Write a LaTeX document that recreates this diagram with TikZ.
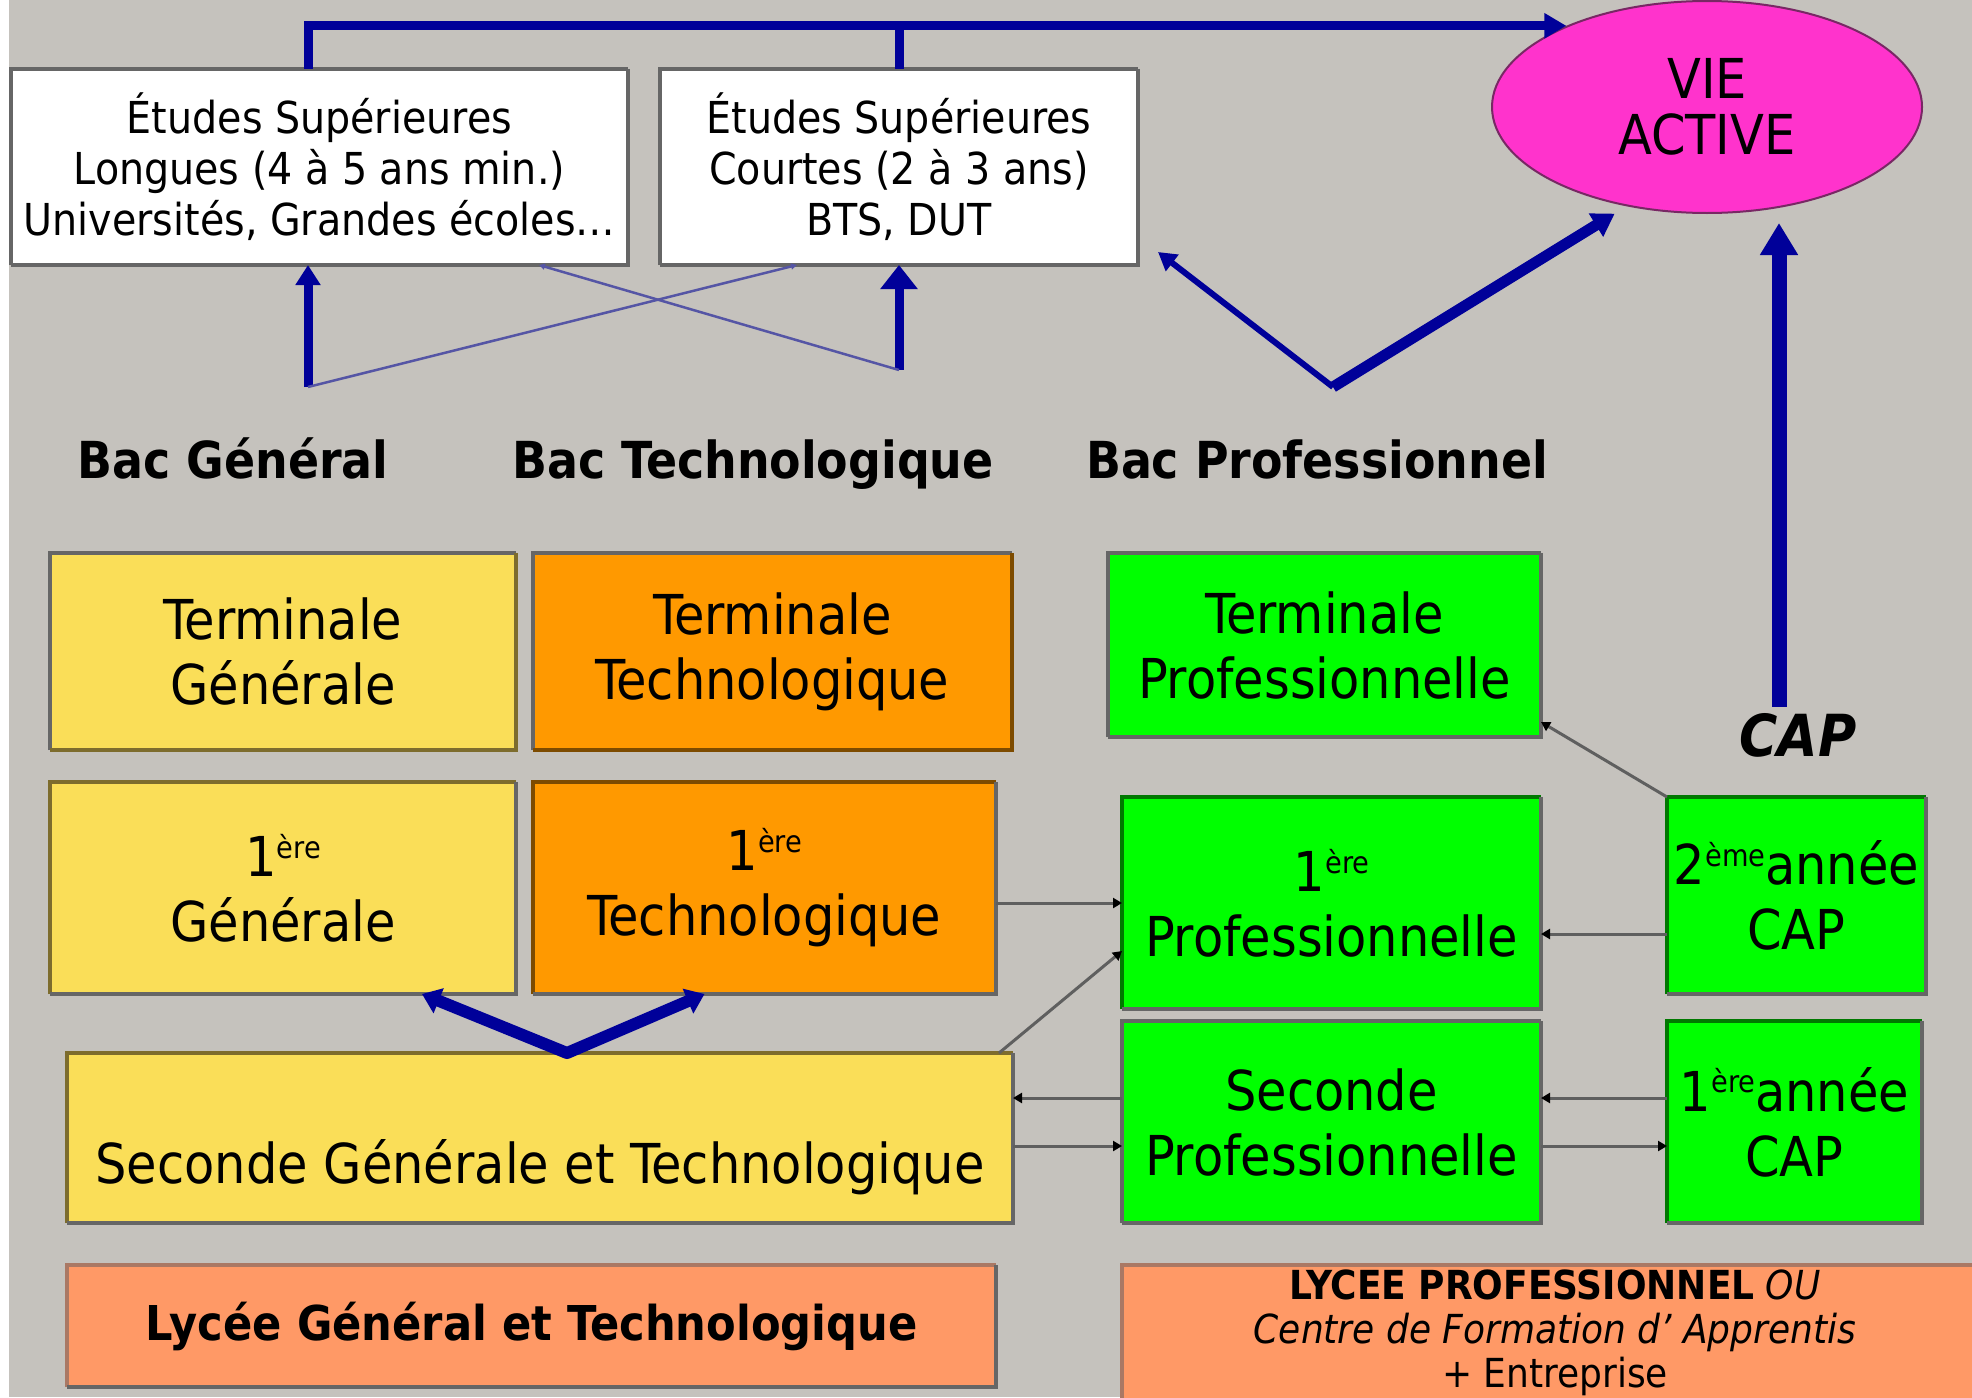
\documentclass[tikz,border=0pt]{standalone}
\usepackage{fontspec}
\setmainfont{DejaVu Sans Condensed}
\usepackage{graphicx}
\usetikzlibrary{arrows.meta,shapes.geometric,calc}
\definecolor{bg}{RGB}{197,194,189}
\definecolor{ylw}{RGB}{250,222,88}
\definecolor{org}{RGB}{255,153,0}
\definecolor{grn}{RGB}{0,255,0}
\definecolor{slm}{RGB}{255,153,102}
\definecolor{pnk}{RGB}{255,51,204}
\definecolor{navy}{RGB}{0,0,153}
\definecolor{thinblue}{RGB}{85,85,165}
\definecolor{edg}{RGB}{102,102,102}
\definecolor{olv}{RGB}{125,108,45}
\definecolor{brn}{RGB}{125,75,0}
\definecolor{dgr}{RGB}{0,120,0}
\definecolor{sbr}{RGB}{170,120,100}
\definecolor{cgray}{RGB}{95,95,95}
\definecolor{pnkedge}{RGB}{120,40,100}
\newcommand\expo[1]{\raisebox{0.33em}{\scalebox{0.55}{#1}}}
\newcommand\boxedges[3]{%
  \draw[line width=3.5pt,#2] (#1.south west) |- (#1.north east);
  \draw[line width=3.5pt,#3] (#1.north east) |- (#1.south west);}
\tikzset{
  bx/.style={rectangle, inner sep=0pt, outer sep=0pt, align=center, text=black},
  fbig/.style={font=\fontsize{55}{65}\selectfont},
  fmid/.style={font=\fontsize{44}{51}\selectfont},
  fbac/.style={font=\bfseries\fontsize{51}{56}\selectfont},
  fcap/.style={font=\bfseries\itshape\fontsize{58}{60}\selectfont},
  flgt/.style={font=\bfseries\fontsize{48}{50}\selectfont},
  flp/.style={font=\fontsize{40}{44}\selectfont},
  thickline/.style={draw=navy, line width=9pt},
  thinline/.style={draw=thinblue, line width=2.5pt, -{Triangle[length=6pt,width=6pt]}},
  conn/.style={draw=cgray, line width=3pt, -{Triangle[length=9pt,width=10pt,color=black]}},
}
\begin{document}
\begin{tikzpicture}[x=1pt,y=-1pt]
\fill[bg] (0,0) rectangle (1972,1397);
\fill[white] (0,0) rectangle (9,1397);
\useasboundingbox (0,0) rectangle (1972,1397);
\clip (0,0) rectangle (1972,1397);

% upper boxes
\node[bx, fmid, fill=white, minimum width=617, minimum height=196] (elong) at (319.5,167)
  {Études Supérieures\\Longues (4 à 5 ans min.)\\Universités, Grandes écoles…};
\boxedges{elong}{edg}{edg}
\node[bx, fmid, fill=white, minimum width=478, minimum height=196] (ecourt) at (899,167)
  {Études Supérieures\\Courtes (2 à 3 ans)\\BTS, DUT};
\boxedges{ecourt}{edg}{edg}

\node[ellipse, inner sep=0pt, fill=pnk, draw=pnkedge, line width=2pt, minimum width=430, minimum height=212,
  align=center, font=\fontsize{55}{56}\selectfont] (vie) at (1707,107) {VIE\\ACTIVE};

% bac labels
\node[fbac, anchor=base] (bg) at (233,478) {Bac Général};
\node[fbac, anchor=base] (bt) at (753,478) {Bac Technologique};
\node[fbac, anchor=base] (bp) at (1317,478) {Bac Professionnel};
\node[fcap, inner sep=0pt] (cap) at (1798,735) {CAP};

% lycee boxes
\node[bx, fbig, fill=ylw, minimum width=466, minimum height=197] (tg) at (283,651.5) {Terminale\\Générale};
\boxedges{tg}{edg}{olv}
\node[bx, fbig, fill=org, minimum width=479, minimum height=197] (tt) at (772.5,651.5) {Terminale\\Technologique};
\boxedges{tt}{edg}{brn}
\node[bx, fbig, fill=grn, minimum width=433, minimum height=184] (tp) at (1324.5,645) {Terminale\\Professionnelle};
\boxedges{tp}{edg}{edg}
\node[bx, fbig, fill=ylw, minimum width=466, minimum height=212] (pg) at (283,888) {1\expo{ère}\\Générale};
\boxedges{pg}{olv}{edg}
\node[bx, fbig, fill=org, minimum width=463, minimum height=212] (pt) at (764.5,888) {1\expo{ère}\\Technologique};
\boxedges{pt}{brn}{edg}
\node[bx, fbig, fill=grn, minimum width=419, minimum height=212] (pp) at (1331.5,903) {1\expo{ère}\\Professionnelle};
\boxedges{pp}{dgr}{edg}
\node[bx, fbig, fill=grn, minimum width=259, minimum height=197] (cap2) at (1796.5,895.5) {2\expo{ème}année\\CAP};
\boxedges{cap2}{dgr}{edg}
\node[bx, fbig, fill=grn, minimum width=419, minimum height=202] (sp) at (1331.5,1122) {Seconde\\Professionnelle};
\boxedges{sp}{edg}{edg}
\node[bx, fbig, fill=grn, minimum width=255, minimum height=202] (cap1) at (1794.5,1122) {1\expo{ère}année\\CAP};
\boxedges{cap1}{dgr}{edg}
\node[bx, fill=ylw, minimum width=946, minimum height=170] (sgt) at (540,1138) {};
\boxedges{sgt}{olv}{edg}
\node[fbig, inner sep=0pt] (sgtlabel) at (540,1167) {Seconde Générale et Technologique};

\node[bx, flgt, fill=slm, minimum width=929, minimum height=122] (lgt) at (531.5,1326) {Lycée Général et Technologique};
\boxedges{lgt}{sbr}{edg}
\node[bx, fill=slm, minimum width=868, minimum height=145] (lp) at (1556,1337.5) {};
\boxedges{lp}{sbr}{edg}
\node[flp, align=center, inner sep=0pt] (lplabel) at (1555,1333)
  {\textbf{LYCEE PROFESSIONNEL} \textit{OU}\\\textit{Centre de Formation d’ Apprentis}\\+ Entreprise};

% coordinates for free ends
\coordinate (topL) at ([xshift=-11.5pt]elong.north);
\coordinate (bgfoot) at (308,387);
\coordinate (btfoot) at (899,370);
\coordinate (bpv) at (1333,387);
\coordinate (capfoot) at ([xshift=-19pt,yshift=6pt]cap.north);

% top connectors
\draw[thickline, -{Triangle[length=22pt,width=24pt]}] (topL) |- (vie.150);
\draw[thickline] (ecourt.north) -- (ecourt.north |- vie.150);

% bac arrows
\draw[thickline, -{Triangle[length=20pt,width=24pt]}] (bgfoot) -- (bgfoot |- elong.south);
\draw[thickline, -{Triangle[length=24pt,width=36pt]}] (btfoot) -- (ecourt.south);
\draw[thinline] (bgfoot) -- ([xshift=-102pt]ecourt.south);
\draw[thinline] (btfoot) -- ([xshift=219.5pt]elong.south);
\draw[draw=navy, line width=6pt, -{Triangle[length=18pt,width=20pt]}] (bpv) -- ([xshift=20pt,yshift=13pt]ecourt.south east);
\draw[draw=navy, line width=11pt, line join=round, -{Triangle[length=22pt,width=26pt]}, shorten >=14pt] (bpv) -- (vie.231);
\draw[draw=navy, line width=15pt, -{Triangle[length=32pt,width=36pt]}, shorten >=9pt] (capfoot) -- (capfoot |- vie.south);

% seconde V
\draw[draw=navy, line width=12pt, line join=round,
  {Triangle[length=18pt,width=26pt]}-{Triangle[length=18pt,width=26pt]}]
  ([xshift=139pt]pg.south) -- ([xshift=27pt]sgt.north) -- ([xshift=-60pt]pt.south);

% grey connectors
\draw[conn] (pt.east |- pp.west) -- (pp.west);
\draw[conn] ([xshift=-14pt]sgt.north east) -- ([yshift=-48pt]pp.west);
\coordinate (c2a) at ([yshift=-31pt]pp.east);
\draw[conn] (c2a -| cap2.west) -- (c2a);
\draw[conn] (cap2.north west) -- ([yshift=15pt]tp.south east);
\coordinate (r1) at ([yshift=24pt]sp.west);
\coordinate (r2) at ([yshift=-24pt]sp.west);
\draw[conn] (r1) -- (r1 -| sgt.east);
\draw[conn] (r2 -| sgt.east) -- (r2);
\draw[conn] (r1 -| cap1.west) -- (r1 -| sp.east);
\draw[conn] (r2 -| sp.east) -- (r2 -| cap1.west);
\end{tikzpicture}
\end{document}
